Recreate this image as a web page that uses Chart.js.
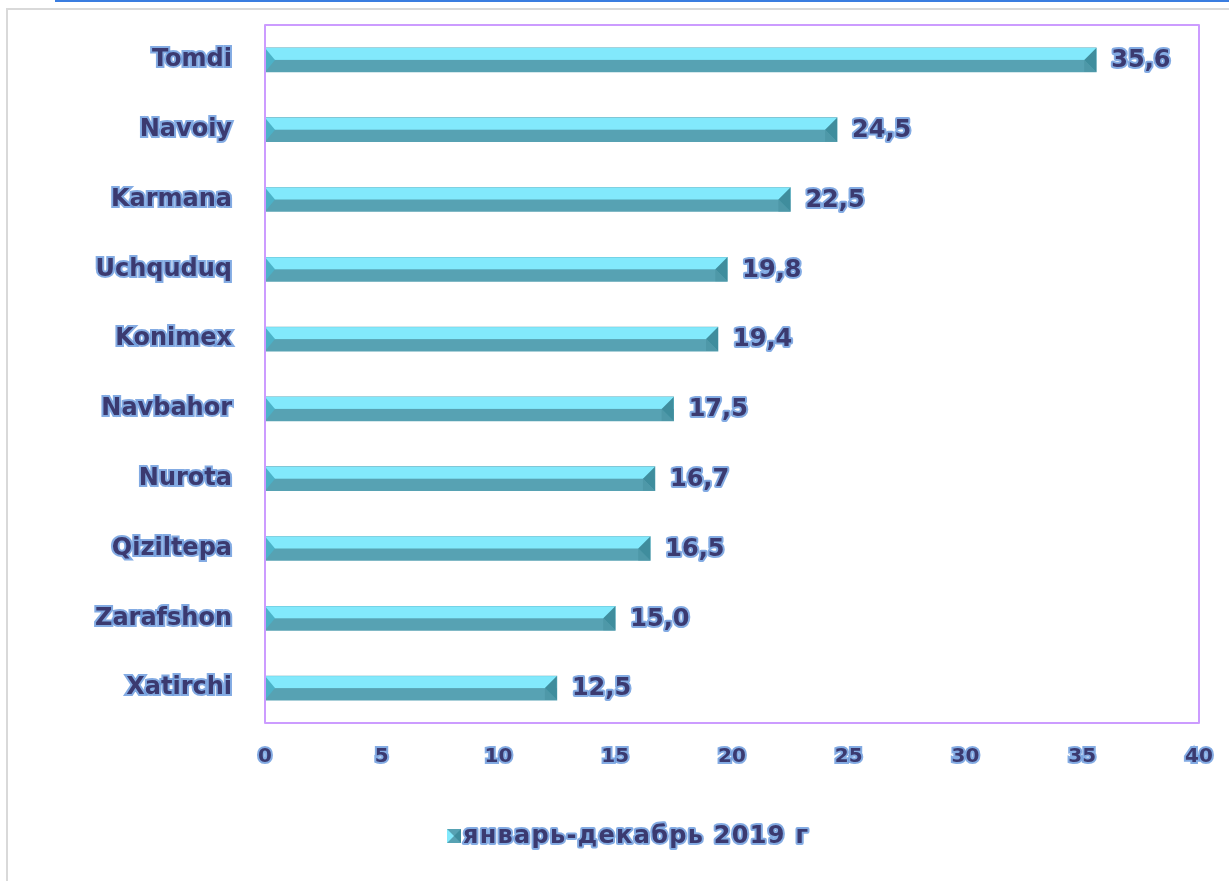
<!DOCTYPE html>
<html>
<head>
<meta charset="utf-8">
<script src="https://cdn.jsdelivr.net/npm/chart.js@4/dist/chart.umd.min.js"></script>
<style>
  html, body { margin: 0; padding: 0; background: #fff; overflow: hidden; }
  #wrap { position: relative; width: 1229px; height: 881px; }
  #frame { position: absolute; left: 6px; top: 8px; width: 1240px; height: 900px; border: 2px solid #d9d9d9; box-sizing: border-box; }
  #topline { position: absolute; left: 55px; top: 0; width: 1200px; height: 2px; background: #3a7de0; }
  canvas { position: absolute; left: 0; top: 0; }
</style>
</head>
<body>
<div id="wrap">
  <div id="topline"></div>
  <div id="frame"></div>
  <canvas id="myChart" width="1229" height="881"></canvas>
</div>
<script>
const districts = ['Tomdi', 'Navoiy', 'Karmana', 'Uchquduq', 'Konimex', 'Navbahor', 'Nurota', 'Qiziltepa', 'Zarafshon', 'Xatirchi'];
const values2019 = [35.6, 24.5, 22.5, 19.8, 19.4, 17.5, 16.7, 16.5, 15.0, 12.5];
const seriesName = 'январь-декабрь 2019 г';
const xTicks = [0, 5, 10, 15, 20, 25, 30, 35, 40];

const navy = '#3b3a70';
const glow = 'rgba(100,150,220,0.8)';
const lightTop = '#82e9fc';
const darkBottom = '#57a2b3';
const fontFamily = '"DejaVu Sans", Verdana, sans-serif';

function glowText(ctx, text, x, y, size, spacing) {
    ctx.font = 'bold ' + size + 'px ' + fontFamily;
    ctx.letterSpacing = spacing || '0px';
    ctx.lineJoin = 'round';
    ctx.strokeStyle = glow;
    ctx.lineWidth = 4;
    ctx.strokeText(text, x, y);
    ctx.fillStyle = navy;
    ctx.fillText(text, x, y);
    ctx.letterSpacing = '0px';
}

// bevelled bars, plot frame, value labels and legend
const decorPlugin = {
    id: 'decor',
    afterDatasetsDraw(chart) {
        const ctx = chart.ctx;
        const meta = chart.getDatasetMeta(0);
        ctx.save();
        meta.data.forEach((bar, i) => {
            const x0 = bar.base, x1 = bar.x;
            const yT = bar.y - bar.height / 2, yB = bar.y + bar.height / 2, ym = bar.y;
            ctx.fillStyle = lightTop;
            ctx.fillRect(x0, yT, x1 - x0, ym - yT);
            // left bevel
            ctx.fillStyle = '#4cb2c8';
            ctx.beginPath();
            ctx.moveTo(x0, yT); ctx.lineTo(x0 + 10, ym); ctx.lineTo(x0, yB); ctx.closePath();
            ctx.fill();
            // right bevel
            ctx.fillStyle = '#3f8d9d';
            ctx.beginPath();
            ctx.moveTo(x1 - 12, ym); ctx.lineTo(x1, yT); ctx.lineTo(x1, yB); ctx.lineTo(x1 - 12, ym); ctx.closePath();
            ctx.fill();
            ctx.fillStyle = '#4e98a8';
            ctx.beginPath();
            ctx.moveTo(x1 - 12, ym); ctx.lineTo(x1, yB); ctx.lineTo(x1 - 12, yB); ctx.closePath();
            ctx.fill();
            // value label
            const txt = values2019[i].toFixed(1).replace('.', ',');
            ctx.textAlign = 'left';
            ctx.textBaseline = 'middle';
            glowText(ctx, txt, x1 + 15, ym + 1, 24);
        });
        const a = chart.chartArea;
        ctx.strokeStyle = '#cc9cff';
        ctx.lineWidth = 2;
        ctx.strokeRect(a.left, a.top, a.right - a.left, a.bottom - a.top);
        ctx.restore();
    },
    afterDraw(chart) {
        const ctx = chart.ctx;
        ctx.save();
        const bx = 447, by = 829, s = 14;
        ctx.fillStyle = darkBottom;
        ctx.fillRect(bx, by, s, s);
        ctx.fillStyle = lightTop;
        ctx.beginPath();
        ctx.moveTo(bx, by); ctx.lineTo(bx + s / 2, by + s / 2); ctx.lineTo(bx, by + s); ctx.closePath();
        ctx.fill();
        ctx.fillStyle = '#3f8d9d';
        ctx.beginPath();
        ctx.moveTo(bx + s, by); ctx.lineTo(bx + s / 2, by + s / 2); ctx.lineTo(bx + s, by + s); ctx.closePath();
        ctx.fill();
        ctx.textAlign = 'left';
        ctx.textBaseline = 'middle';
        glowText(ctx, chart.data.datasets[0].label, bx + s + 2, by + s / 2 + 1, 24, '1.3px');
        ctx.restore();
    }
};

new Chart(document.querySelector('#myChart').getContext('2d'), {
    type: 'bar',
    data: {
        labels: districts,
        datasets: [{
            label: seriesName,
            data: values2019,
            backgroundColor: darkBottom,
            borderWidth: 0,
            barThickness: 24
        }]
    },
    options: {
        indexAxis: 'y',
        responsive: false,
        animation: false,
        events: [],
        layout: { padding: { left: 0, right: 30, top: 25, bottom: 98 } },
        plugins: {
            legend: { display: false },
            tooltip: { enabled: false }
        },
        scales: {
            x: {
                min: 0,
                max: 40,
                afterFit: (scale) => {
                    scale.height = 60;
                    scale.paddingLeft = 0;
                    scale.paddingRight = 0;
                },
                afterBuildTicks: (scale) => { scale.ticks = xTicks.map(v => ({ value: v })); },
                grid: { display: false, drawTicks: false },
                border: { display: false },
                ticks: {
                    padding: 22,
                    color: navy,
                    textStrokeColor: glow,
                    textStrokeWidth: 4,
                    font: { family: fontFamily, size: 20, weight: 'bold' }
                }
            },
            y: {
                afterFit: (scale) => {
                    scale.width = 265;
                    scale.paddingTop = 0;
                    scale.paddingBottom = 0;
                },
                grid: { display: false, drawTicks: false },
                border: { display: false },
                ticks: {
                    padding: 33,
                    color: navy,
                    textStrokeColor: glow,
                    textStrokeWidth: 4,
                    font: { family: fontFamily, size: 24, weight: 'bold' }
                }
            }
        }
    },
    plugins: [decorPlugin]
});
</script>
</body>
</html>
